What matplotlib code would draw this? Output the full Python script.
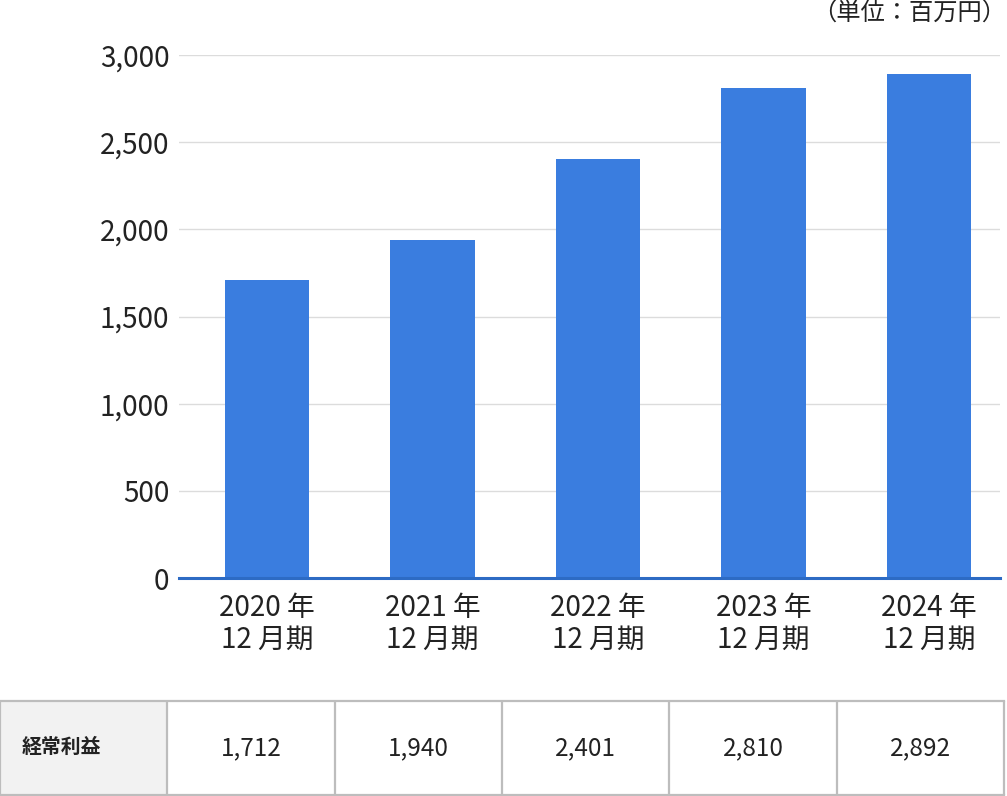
import matplotlib
matplotlib.use('Agg')
from matplotlib import pyplot
from matplotlib.patches import Rectangle

pyplot.rcParams['font.family'] = ['Noto Sans CJK JP', 'DejaVu Sans']

# Data
years = ['2020', '2021', '2022', '2023', '2024']
profits = [1712, 1940, 2401, 2810, 2892]
row_label = '経常利益'
unit_label = '（単位：百万円）'
y_ticks = [0, 500, 1000, 1500, 2000, 2500, 3000]

BAR_COLOR = '#3a7ddf'
AXIS_COLOR = '#2d6bc4'
GRID_COLOR = '#dcdcdc'
TEXT_COLOR = '#222222'
BORDER_COLOR = '#bdbdbd'

W, H = 1007, 796


def _plot_bars(fig):
    '''Bar chart area.'''
    ax = fig.add_axes([179 / W, 1 - 578 / H, (1000 - 179) / W, (578 - 55) / H])
    xs = list(range(len(years)))
    ax.bar(xs, profits, width=0.51, color=BAR_COLOR, zorder=2)
    ax.set_xlim(-0.532, 4.43)
    ax.set_ylim(0, 3000)
    ax.set_yticks(y_ticks)
    ax.set_yticklabels(['{:,}'.format(v) for v in y_ticks])
    ax.set_xticks(xs)
    ax.set_xticklabels(['{} 年\n12 月期'.format(y) for y in years],
                       linespacing=1.05)
    ax.grid(axis='y', color=GRID_COLOR, linewidth=1, zorder=0)
    for side in ['top', 'right', 'left']:
        ax.spines[side].set_visible(False)
    ax.spines['bottom'].set_color(AXIS_COLOR)
    ax.spines['bottom'].set_linewidth(2.2)
    ax.spines['bottom'].set_zorder(3)
    ax.tick_params(axis='both', length=0, labelsize=20, colors=TEXT_COLOR)
    ax.tick_params(axis='y', pad=7)
    ax.tick_params(axis='x', pad=11)
    return ax


def _plot_table(fig):
    '''Value table below the chart.'''
    tab = fig.add_axes([0, 1 - 795 / H, 1004 / W, (795 - 701) / H])
    tab.set_xlim(0, 6)
    tab.set_ylim(0, 1)
    tab.axis('off')
    tab.add_patch(Rectangle((0, 0), 1, 1, facecolor='#f2f2f2',
                            edgecolor='none'))
    for i in range(7):
        tab.plot([i, i], [0, 1], color=BORDER_COLOR, linewidth=1.6,
                 solid_capstyle='butt', clip_on=False)
    tab.plot([0, 6], [1, 1], color=BORDER_COLOR, linewidth=1.6, clip_on=False)
    tab.plot([0, 6], [0, 0], color=BORDER_COLOR, linewidth=1.6, clip_on=False)
    tab.text(0.13, 0.52, row_label, fontsize=14.3, fontweight='bold',
             color=TEXT_COLOR, va='center', ha='left')
    for i, val in enumerate(profits):
        tab.text(i + 1.5, 0.5, '{:,}'.format(val), fontsize=17.5,
                 color=TEXT_COLOR, va='center', ha='center')


def main():
    '''main method.'''
    fig = pyplot.figure(figsize=(W / 100, H / 100), dpi=100)
    _plot_bars(fig)
    _plot_table(fig)
    fig.text(1006 / W, 1 - 14 / H, unit_label, fontsize=17.5, color=TEXT_COLOR,
             ha='right', va='center')
    fig.savefig('out.png', dpi=100)


if __name__ == '__main__':
    main()
